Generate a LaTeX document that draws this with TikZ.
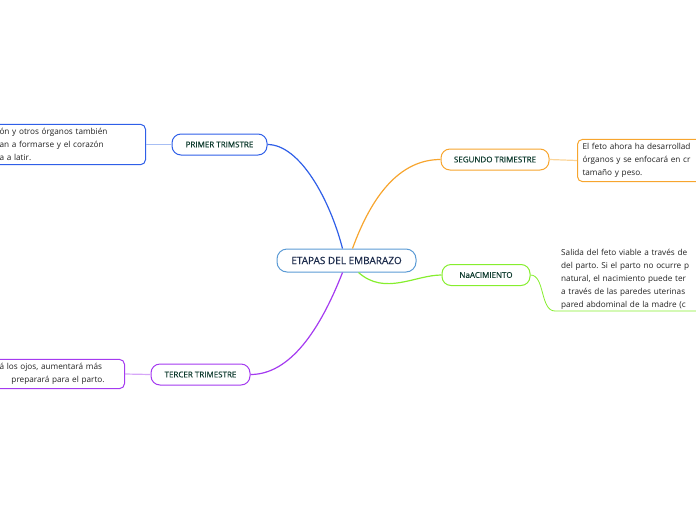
\documentclass[tikz,border=0pt]{standalone}
\usepackage{fontspec}
\setmainfont{Open Sans}
\newfontfamily\labelfont[FakeBold=0.5]{Open Sans}
\usetikzlibrary{calc}
\definecolor{rootblue}{HTML}{5B9BD5}
\definecolor{roottext}{HTML}{1C2B4B}
\definecolor{labeltext}{HTML}{0E3B2E}
\definecolor{notetext}{HTML}{222222}
\definecolor{firstblue}{HTML}{2F5FE8}
\definecolor{firstlight}{HTML}{A7BEF4}
\definecolor{secondorange}{HTML}{F7A52E}
\definecolor{secondlight}{HTML}{FBD59A}
\definecolor{birthgreen}{HTML}{86EE2E}
\definecolor{thirdpurple}{HTML}{A43AF0}
\definecolor{thirdlight}{HTML}{D6A6F8}
\tikzset{
  rootbox/.style={draw=rootblue, fill=white, line width=1pt, rounded corners=10pt,
    minimum width=139pt, minimum height=23pt, text=roottext,
    font=\labelfont\fontsize{10}{12}\selectfont},
  branchbox/.style={draw=#1, fill=white, line width=1pt, rounded corners=9pt,
    minimum height=21pt, text=labeltext, font=\labelfont\fontsize{8}{10}\selectfont},
  notebox/.style={draw=#1, fill=white, line width=1pt, rounded corners=5pt,
    align=left, inner xsep=5pt, inner ysep=4pt, text=notetext,
    font=\fontsize{8.2}{13}\selectfont},
  link/.style={draw=#1, line width=1.2pt},
}
\frenchspacing

\begin{document}
\begin{tikzpicture}[x=1pt,y=-1pt]
  \useasboundingbox (0,0) rectangle (696,520);
  \clip (0,0) rectangle (696,520);

  % Center
  \node[rootbox] (root) at (346.5,260.5) {ETAPAS DEL EMBARAZO};

  % Branches
  \node[branchbox=firstblue, minimum width=95pt] (first) at (219.5,144.5) {PRIMER TRIMSTRE};
  \node[branchbox=secondorange, minimum width=108pt] (second) at (495,159.5) {SEGUNDO TRIMESTRE};
  \node[branchbox=birthgreen, minimum width=88pt] (birth) at (486,275) {NaACIMIENTO};
  \node[branchbox=thirdpurple, minimum width=99pt] (third) at (200.5,374.5) {TERCER TRIMESTRE};

  % Notes
  \node[notebox=firstblue, anchor=east, text width=141pt] (firstnote) at (146,144.5)
    {ón y otros órganos también\\an a formarse y el corazón\\a a latir.};
  \node[notebox=secondorange, anchor=west, text width=150pt] (secondnote) at (577,160.5)
    {El feto ahora ha desarrollad\\órganos y se enfocará en cr\\tamaño y peso.};
  \node[notebox=thirdpurple, anchor=east, text width=120pt] (thirdnote) at (125,374)
    {á los ojos, aumentará más\\\hspace*{12pt}preparará para el parto.};
  \node[anchor=south west, align=left, inner xsep=6pt, inner ysep=1pt, text width=150pt,
    text=notetext, font=\fontsize{8.2}{13}\selectfont] (birthnote) at (555,311)
    {Salida del feto viable a través de\\del parto. Si el parto no ocurre p\\natural, el nacimiento puede ter\\a través de las paredes uterinas\\pared abdominal de la madre (c};

  % Connectors
  \draw[link=firstblue] ($(root.north)+(-4,0)$) .. controls (330,200) and (300,144.5) .. (first.east);
  \draw[link=secondorange] ($(root.north)+(6,0)$) .. controls (372,195) and (400,159.5) .. (second.west);
  \draw[link=birthgreen] ($(root.south)+(12,0)$) .. controls (385,296) and (415,275) .. (birth.west);
  \draw[link=thirdpurple] ($(root.south)+(-4,0)$) .. controls (320,330) and (290,374.5) .. (third.east);

  \draw[link=firstlight] (firstnote.east) -- (first.west);
  \draw[link=secondlight] (second.east) -- (secondnote.west);
  \draw[link=thirdlight] (third.west) -- (thirdnote.east);
  \draw[link=birthgreen, line width=0.8pt] (birth.east) .. controls (545,275) and (540,311) .. (birthnote.south west) -- (birthnote.south east);
\end{tikzpicture}
\end{document}
